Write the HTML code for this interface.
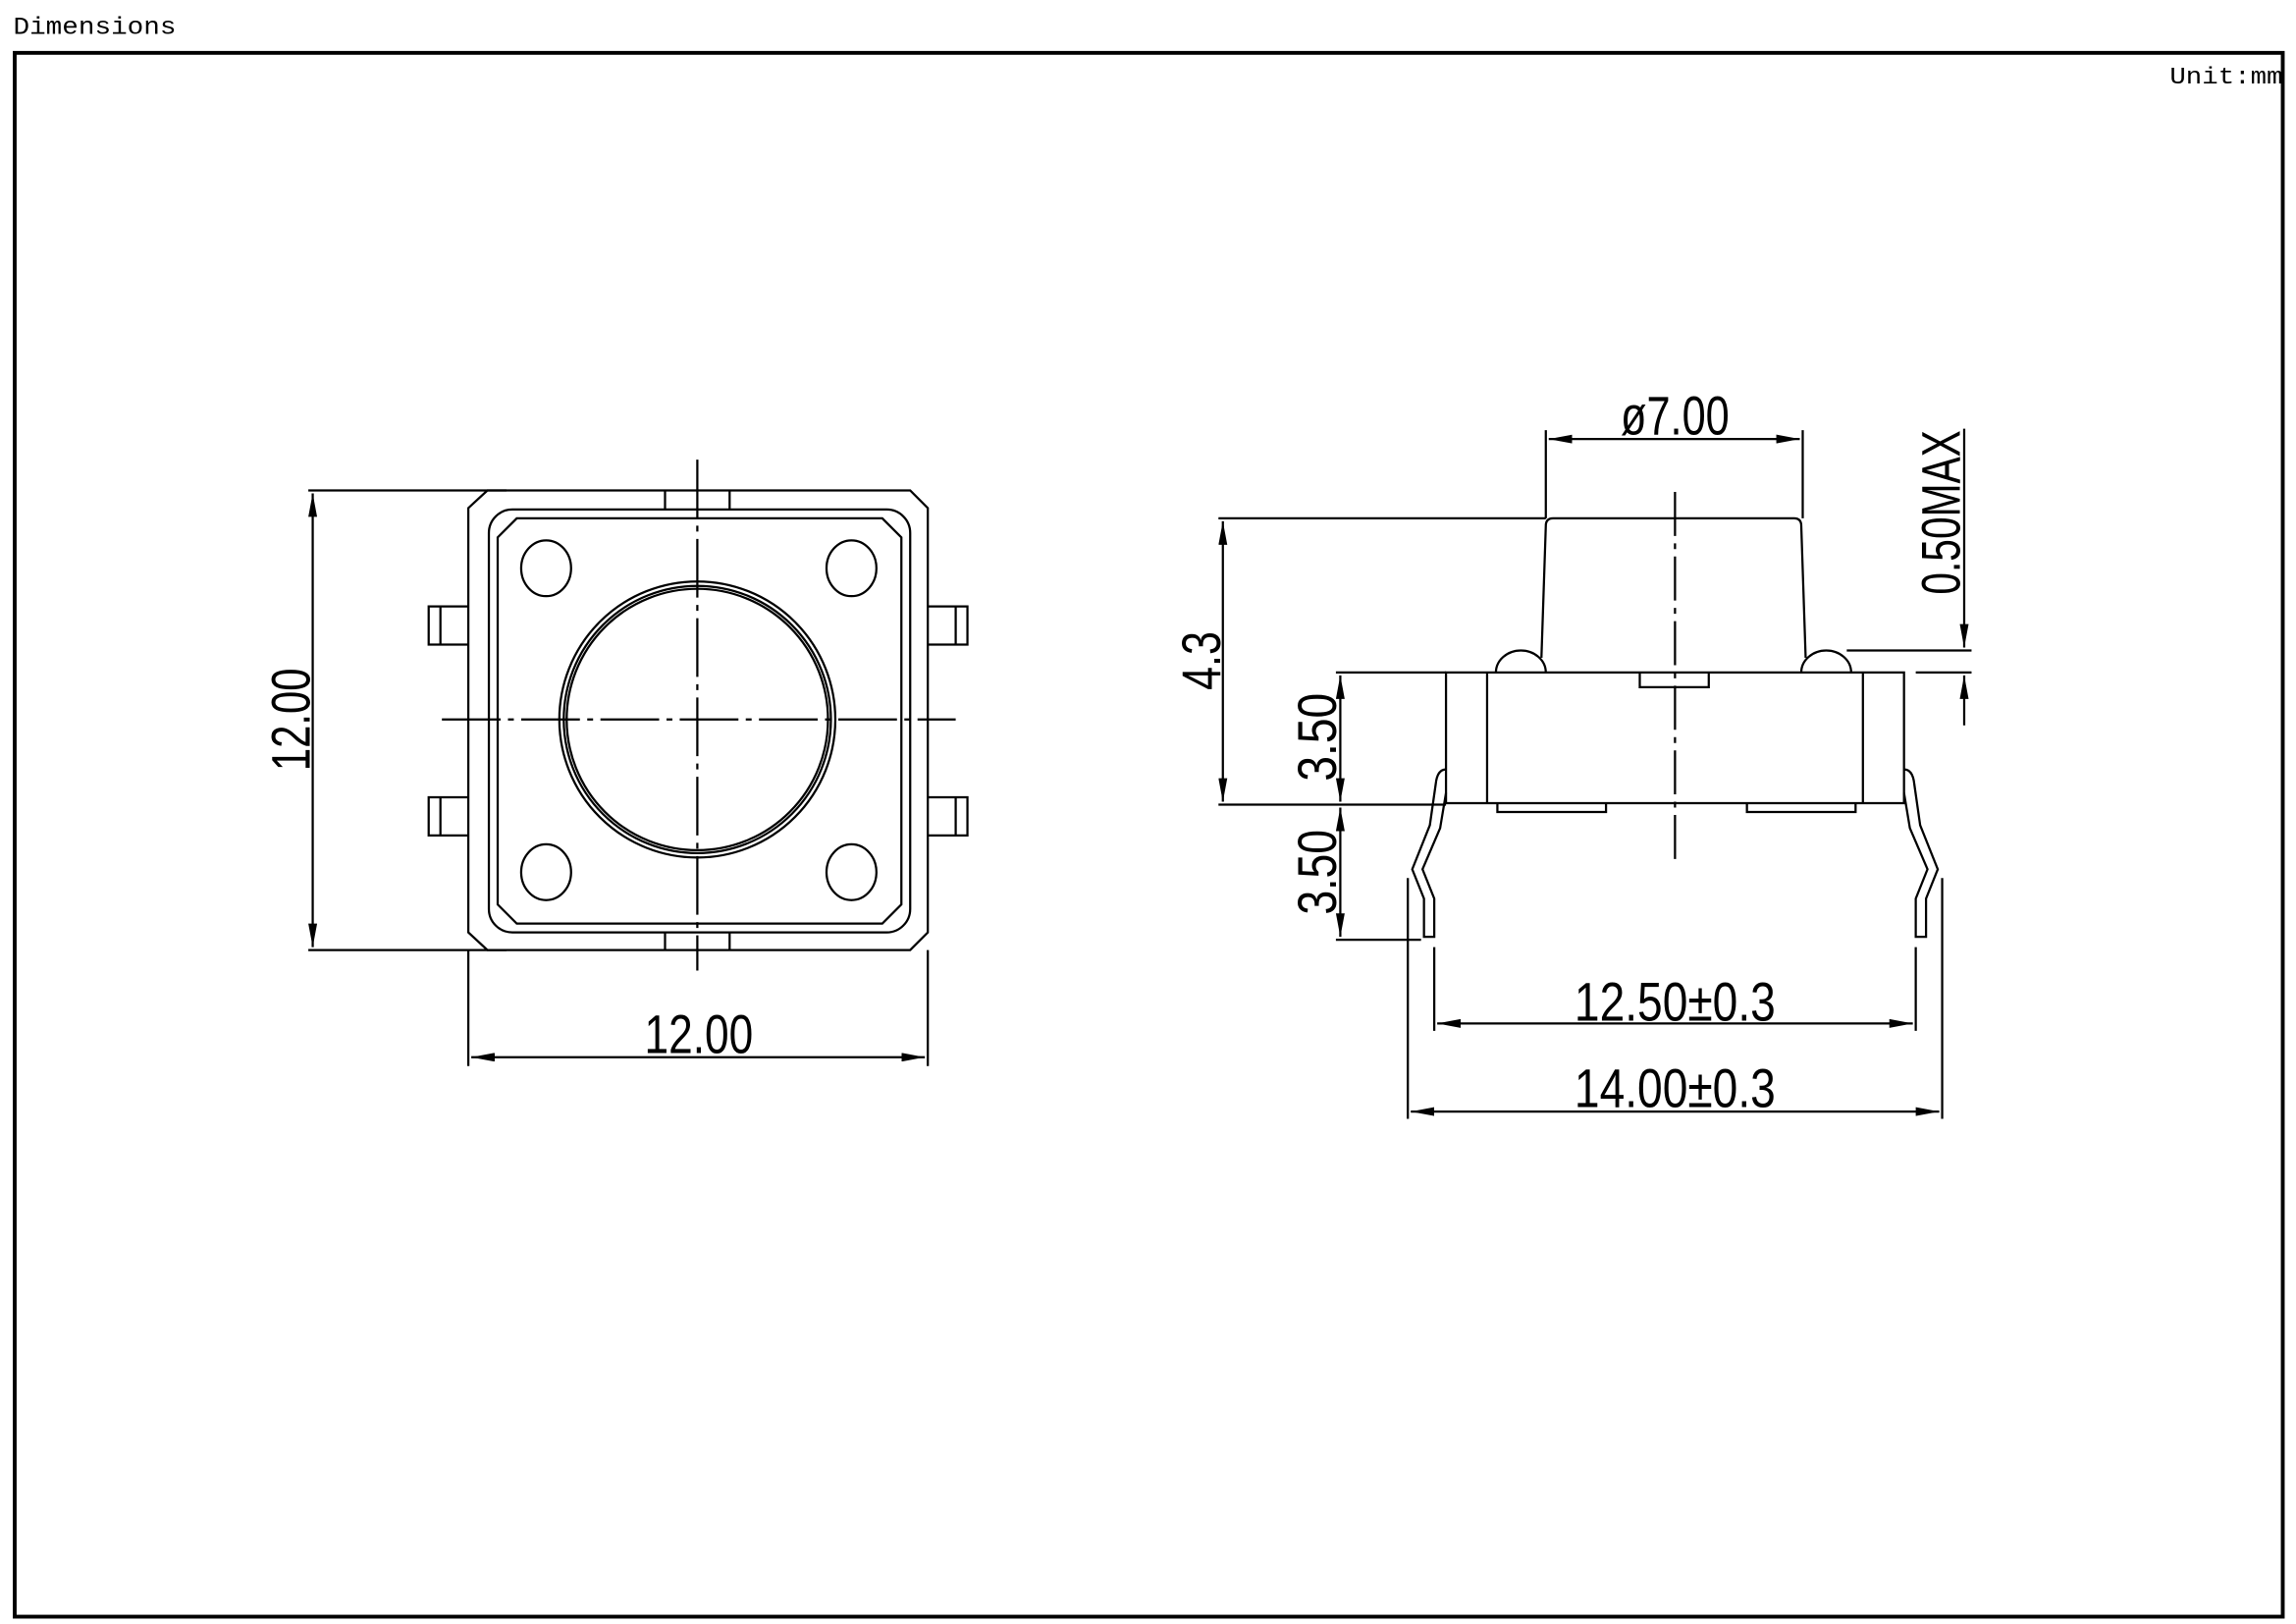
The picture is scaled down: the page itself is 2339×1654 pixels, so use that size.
<!DOCTYPE html>
<html><head><meta charset="utf-8"><style>
html,body{margin:0;padding:0;background:#fff;}
svg{display:block;}
.d{font-family:"Liberation Sans",sans-serif;font-size:37px;fill:#000;}
.m{font-family:"Liberation Mono",monospace;font-size:16px;fill:#000;}
</style></head><body>
<svg width="2339" height="1654" viewBox="0 0 1564 1106" xmlns="http://www.w3.org/2000/svg">
<defs>
<marker id="a" viewBox="0 0 16 6" refX="16" refY="3" markerWidth="16" markerHeight="6" markerUnits="userSpaceOnUse" orient="auto"><path d="M0,0 L16,3 L0,6 Z" fill="#000"/></marker>
<marker id="b" viewBox="0 0 16 6" refX="0" refY="3" markerWidth="16" markerHeight="6" markerUnits="userSpaceOnUse" orient="auto"><path d="M16,0 L0,3 L16,6 Z" fill="#000"/></marker>
</defs>
<rect width="1564" height="1106" fill="#fff"/>
<text class="m" x="9" y="23" style="font-size:17px" textLength="111" lengthAdjust="spacingAndGlyphs">Dimensions</text>
<rect x="10" y="36" width="1545" height="1065" fill="none" stroke="#000" stroke-width="2.6"/>
<text class="m" x="1478" y="57" textLength="77" lengthAdjust="spacingAndGlyphs">Unit:mm</text>

<g fill="none" stroke="#000" stroke-width="1.5">
<!-- LEFT VIEW -->
<path d="M332,334 L620,334 L632,346 L632,635 L620,647 L332,647 L319,635 L319,346 Z"/>
<rect x="333" y="347" width="287" height="288" rx="16"/>
<path d="M352,353 L601,353 L614,366 L614,616 L601,629 L352,629 L339,616 L339,366 Z"/>
<ellipse cx="372" cy="387" rx="17" ry="19"/>
<ellipse cx="580" cy="387" rx="17" ry="19"/>
<ellipse cx="372" cy="594" rx="17" ry="19"/>
<ellipse cx="580" cy="594" rx="17" ry="19"/>
<circle cx="475" cy="490" r="94"/>
<circle cx="475" cy="490" r="91"/>
<circle cx="475" cy="490" r="89"/>
<path d="M319,413 L292,413 L292,439 L319,439 M300,413 L300,439"/>
<path d="M319,543 L292,543 L292,569 L319,569 M300,543 L300,569"/>
<path d="M632,413 L659,413 L659,439 L632,439 M651,413 L651,439"/>
<path d="M632,543 L659,543 L659,569 L632,569 M651,543 L651,569"/>
<path d="M453,334 L453,347 M497,334 L497,347 M453,635 L453,647 M497,635 L497,647"/>
<path d="M475,313 L475,661" stroke-dasharray="40,5,4,5"/>
<path d="M301,490 L651,490" stroke-dasharray="40,5,4,5"/>
<!-- left dims -->
<path d="M210,334 L345,334 M210,647 L345,647"/>
<path d="M213,336 L213,645" marker-start="url(#b)" marker-end="url(#a)"/>
<path d="M319,647 L319,726 M632,647 L632,726"/>
<path d="M321,720 L630,720" marker-start="url(#b)" marker-end="url(#a)"/>

<!-- RIGHT VIEW -->
<path d="M1053,358 Q1053,353 1058,353 L1222,353 Q1227,353 1227,358 L1230,448 M1053,358 L1050,448"/>
<path d="M1019,458 A17,15 0 0 1 1053,458"/>
<path d="M1227,458 A17,15 0 0 1 1261,458"/>
<path d="M985,458 L1297,458 L1297,547 L985,547 Z"/>
<path d="M1013,458 L1013,547 M1269,458 L1269,547"/>
<path d="M1117,458 L1117,468 L1164,468 L1164,458"/>
<path d="M1020,547 L1020,553 L1094,553 L1094,547 M1190,547 L1190,553 L1264,553 L1264,547"/>
<path d="M1141,335 L1141,585" stroke-dasharray="30,5,4,5"/>
<!-- leads -->
<path d="M985,524 Q979,524 978,534 L974,562 L962,592 L970,612 L970,638 L977,638 L977,612 L969,592 L981,564 L985,540"/>
<path d="M1297,524 Q1303,524 1304,534 L1308,562 L1320,592 L1312,612 L1312,638 L1305,638 L1305,612 L1313,592 L1301,564 L1297,540"/>
<!-- right dims -->
<path d="M830,353 L1053,353 M830,548 L985,548"/>
<path d="M833,355 L833,546" marker-start="url(#b)" marker-end="url(#a)"/>
<path d="M910,458 L985,458 M910,640 L968,640"/>
<path d="M913,460 L913,546" marker-start="url(#b)" marker-end="url(#a)"/>
<path d="M913,550 L913,638" marker-start="url(#b)" marker-end="url(#a)"/>
<path d="M1053,293 L1053,353 M1228,293 L1228,353"/>
<path d="M1055,299 L1226,299" marker-start="url(#b)" marker-end="url(#a)"/>
<path d="M1258,443 L1343,443 M1305,458 L1343,458"/>
<path d="M1338,292 L1338,441" marker-end="url(#a)"/>
<path d="M1338,494 L1338,460" marker-end="url(#a)"/>
<path d="M977,645 L977,702 M1305,645 L1305,702"/>
<path d="M979,697 L1303,697" marker-start="url(#b)" marker-end="url(#a)"/>
<path d="M959,598 L959,762 M1323,598 L1323,762"/>
<path d="M961,757 L1321,757" marker-start="url(#b)" marker-end="url(#a)"/>
</g>

<g class="d">
<text x="476" y="717" text-anchor="middle" textLength="74" lengthAdjust="spacingAndGlyphs">12.00</text>
<text transform="translate(211,490) rotate(-90)" text-anchor="middle" textLength="70" lengthAdjust="spacingAndGlyphs">12.00</text>
<text x="1141" y="296" text-anchor="middle" textLength="74" lengthAdjust="spacingAndGlyphs">ø7.00</text>
<text x="1141" y="695" text-anchor="middle" textLength="137" lengthAdjust="spacingAndGlyphs">12.50±0.3</text>
<text x="1141" y="754" text-anchor="middle" textLength="137" lengthAdjust="spacingAndGlyphs">14.00±0.3</text>
<text transform="translate(831,450) rotate(-90)" text-anchor="middle" textLength="40" lengthAdjust="spacingAndGlyphs">4.3</text>
<text transform="translate(910,502) rotate(-90)" text-anchor="middle" textLength="60" lengthAdjust="spacingAndGlyphs">3.50</text>
<text transform="translate(910,594) rotate(-90)" text-anchor="middle" textLength="58" lengthAdjust="spacingAndGlyphs">3.50</text>
<text transform="translate(1335,349) rotate(-90)" text-anchor="middle" textLength="112" lengthAdjust="spacingAndGlyphs">0.50MAX</text>
</g>
</svg>
</body></html>
